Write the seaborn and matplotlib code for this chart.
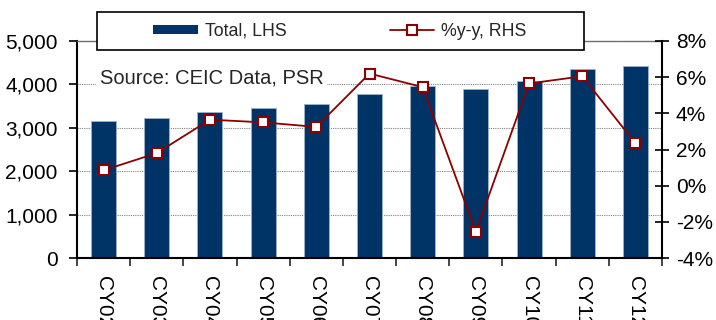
import matplotlib
matplotlib.use("Agg")
import matplotlib.pyplot as plt
from matplotlib.patches import Patch, Rectangle
from matplotlib.lines import Line2D
from matplotlib.ticker import FixedLocator, FuncFormatter
import pandas as pd
import seaborn as sns

years = ["CY02", "CY03", "CY04", "CY05", "CY06", "CY07", "CY08", "CY09", "CY10", "CY11", "CY12"]
total = [3165, 3235, 3360, 3465, 3540, 3770, 3965, 3885, 4080, 4355, 4430]
yoy = [0.85, 1.8, 3.65, 3.5, 3.25, 6.2, 5.45, -2.55, 5.65, 6.05, 2.35]

navy = "#003366"
red = "#8B0000"

sns.set_style("white")
plt.rcParams["font.family"] = ["Liberation Sans", "DejaVu Sans"]

df = pd.DataFrame({"year": years, "total": total, "yoy": yoy})

fig = plt.figure(figsize=(7.16, 3.2), dpi=100)
ax = fig.add_axes([77 / 716, 1 - 258 / 320, 585 / 716, 217 / 320])

sns.barplot(data=df, x="year", y="total", color=navy, saturation=1, width=0.47,
            edgecolor="#9fb3cc", linewidth=0.6, ax=ax)

ax2 = ax.twinx()
sns.lineplot(data=df, x="year", y="yoy", ax=ax2, color=red, linewidth=1.3,
             marker="s", markersize=7, markerfacecolor="white",
             markeredgecolor=red, markeredgewidth=1.5)

ax.set_xlim(-0.5, len(years) - 0.5)
ax.set_ylim(0, 5000)
ax.set_yticks(range(0, 5001, 1000))
ax.yaxis.set_major_formatter(FuncFormatter(lambda v, p: f"{v:,.0f}"))
ax2.set_ylim(-4, 8)
ax2.set_yticks(range(-4, 9, 2))
ax2.yaxis.set_major_formatter(FuncFormatter(lambda v, p: f"{v:.0f}%"))

ax.set_xlabel("")
ax.set_ylabel("")
ax2.set_xlabel("")
ax2.set_ylabel("")

# dotted grid behind the bars
ax.set_axisbelow(True)
ax.yaxis.grid(True, linestyle=(0, (1, 1)), color="#808080", linewidth=0.8)
ax2.grid(False)

# spines
for s in ["left", "bottom"]:
    ax.spines[s].set_color("black")
    ax.spines[s].set_linewidth(1.5)
ax.spines["right"].set_visible(False)
ax.spines["top"].set_color("#707070")
ax.spines["top"].set_linewidth(1.0)
for s in ["left", "bottom", "top"]:
    ax2.spines[s].set_visible(False)
ax2.spines["right"].set_color("black")
ax2.spines["right"].set_linewidth(1.5)

# ticks
ax.set_xticks(range(len(years)))
ax.set_xticklabels(years, rotation=270)
ax.tick_params(axis="x", which="major", length=0, pad=13, labelsize=15, colors="black")
ax.xaxis.set_minor_locator(FixedLocator([i - 0.5 for i in range(len(years) + 1)]))
ax.tick_params(axis="x", which="minor", length=6, width=1.2, direction="out", bottom=True)
ax.tick_params(axis="y", length=6, width=1.2, direction="out", pad=8, labelsize=15, left=True, colors="black")
ax2.tick_params(axis="y", length=10, width=1.2, direction="inout", pad=5, labelsize=15, right=True, colors="black")

ax.text(0.039, 0.806, "Source: CEIC Data, PSR", transform=ax.transAxes, fontsize=14.5,
        va="baseline", ha="left",
        bbox=dict(facecolor="white", edgecolor="none", pad=2.5))

# legend box
fig.add_artist(Rectangle((97 / 716, 1 - 50 / 320), 487 / 716, 38 / 320,
                         transform=fig.transFigure, facecolor="white",
                         edgecolor="black", linewidth=1.2, zorder=4))
handles = [Patch(facecolor=navy, edgecolor="none"),
           Line2D([], [], color=red, linewidth=1.3, marker="s", markersize=7,
                  markerfacecolor="white", markeredgecolor=red, markeredgewidth=1.5)]
leg = fig.legend(handles, ["Total, LHS", "%y-y, RHS"], loc="center",
                 bbox_to_anchor=(340 / 716, 1 - 31 / 320), ncol=2, frameon=False,
                 fontsize=12.8, handlelength=2.5, handleheight=0.4,
                 handletextpad=0.4, columnspacing=5.8)
leg.set_zorder(6)

fig.savefig("out.png", dpi=100)
